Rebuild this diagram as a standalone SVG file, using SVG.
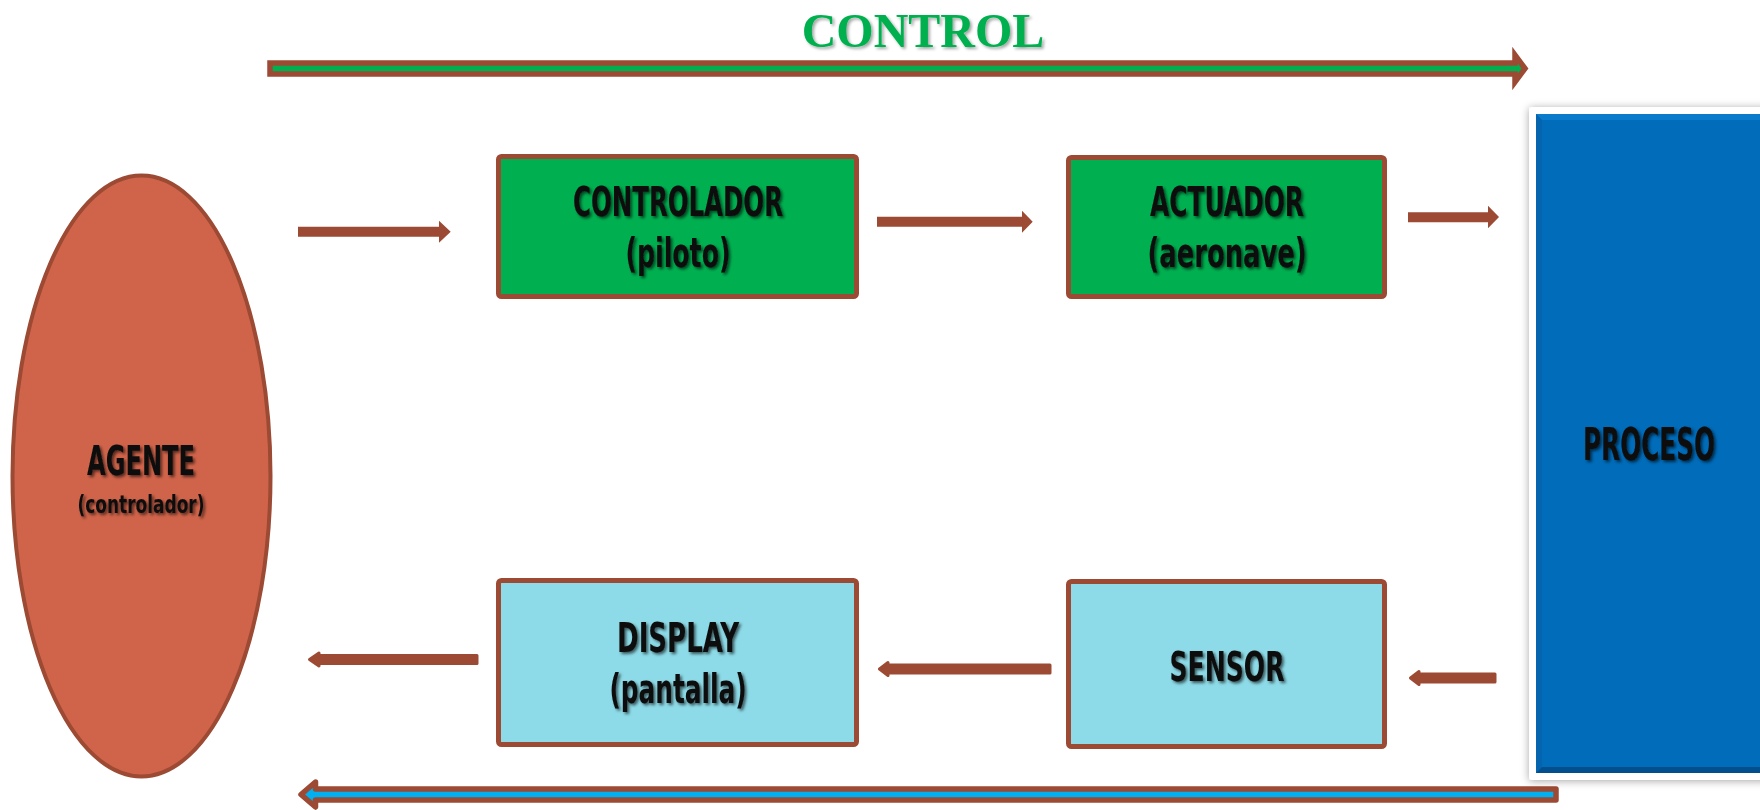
<svg xmlns="http://www.w3.org/2000/svg" width="1760" height="810" viewBox="0 0 1760 810">
<defs>
<style>
.lbl{font-family:"DejaVu Sans Condensed","Liberation Sans Narrow","DejaVu Sans",sans-serif;font-weight:bold;fill:#0D0D0D;text-anchor:middle;filter:url(#tsh);}
.box{stroke:#9C4A33;stroke-width:5;}
.green{fill:#00B050;}
.cyan{fill:#8DDBE8;}
.arr{fill:#9C4A33;}
.arrR{fill:#9C4A33;stroke:#9C4A33;stroke-width:3;stroke-linejoin:round;}
</style>
<filter id="tsh" x="-20%" y="-40%" width="140%" height="180%">
<feDropShadow dx="2" dy="2" stdDeviation="1.4" flood-color="#000" flood-opacity="0.6"/>
</filter>
<filter id="tsh2" x="-20%" y="-40%" width="140%" height="180%">
<feDropShadow dx="2" dy="2" stdDeviation="1.5" flood-color="#000" flood-opacity="0.35"/>
</filter>
<filter id="bsh" x="-10%" y="-5%" width="130%" height="115%">
<feDropShadow dx="0" dy="1" stdDeviation="4" flood-color="#000" flood-opacity="0.35"/>
</filter>
</defs>
<rect width="1760" height="810" fill="#fff"/>

<g id="title">
<text x="923" y="47" font-family="Liberation Serif, serif" font-weight="bold" font-size="48" fill="#00B050" text-anchor="middle" filter="url(#tsh2)">CONTROL</text>
</g>

<g id="connectors">
<path d="M270 63 H1515 V55 L1525 68.5 L1515 82 V74 H270 Z" fill="#00B050" stroke="#9C4A33" stroke-width="5.5" stroke-linejoin="miter"/>
<path d="M1556 789 H315.5 V782 L301 794.5 L315.5 807 V800 H1556 Z" fill="#00B0F0" stroke="#9C4A33" stroke-width="5.5" stroke-linejoin="round"/>
<polygon class="arr" points="298,226.7 439,226.7 439,220.7 450.7,231.7 439,242.7 439,236.7 298,236.7"/>
<polygon class="arr" points="877,216.7 1022,216.7 1022,210.7 1032.7,221.7 1022,232.7 1022,226.7 877,226.7"/>
<polygon class="arr" points="1408,212.3 1488,212.3 1488,205.7 1499,217 1488,228.3 1488,222.3 1408,222.3"/>
<polygon class="arrR" points="477,655.5 319,655.5 319,653 309.5,659.5 319,666 319,663.5 477,663.5"/>
<polygon class="arrR" points="1050,665 888,665 888,662.5 879.5,669 888,675.5 888,673 1050,673"/>
<polygon class="arrR" points="1495,674 1419,674 1419,671.5 1410.5,678 1419,684.5 1419,682 1495,682"/>
</g>

<g id="agente">
<ellipse cx="141.5" cy="476" rx="129" ry="300.5" fill="#D0644A" stroke="#9C4A33" stroke-width="4"/>
<text class="lbl" x="141" y="475" font-size="41" textLength="108" lengthAdjust="spacingAndGlyphs">AGENTE</text>
<text class="lbl" x="141" y="513" font-size="24" textLength="127" lengthAdjust="spacingAndGlyphs">(controlador)</text>
</g>

<g id="controlador">
<rect class="box green" x="498.5" y="156.5" width="358" height="140" rx="3"/>
<text class="lbl" x="678" y="216" font-size="40" textLength="210" lengthAdjust="spacingAndGlyphs">CONTROLADOR</text>
<text class="lbl" x="678" y="267" font-size="40" textLength="105" lengthAdjust="spacingAndGlyphs">(piloto)</text>
</g>

<g id="actuador">
<rect class="box green" x="1068.5" y="157.5" width="316" height="139" rx="3"/>
<text class="lbl" x="1227" y="216" font-size="40" textLength="154" lengthAdjust="spacingAndGlyphs">ACTUADOR</text>
<text class="lbl" x="1227" y="267" font-size="40" textLength="159" lengthAdjust="spacingAndGlyphs">(aeronave)</text>
</g>

<g id="display">
<rect class="box cyan" x="498.5" y="580.5" width="358" height="164" rx="3"/>
<text class="lbl" x="678" y="652" font-size="40" textLength="122" lengthAdjust="spacingAndGlyphs">DISPLAY</text>
<text class="lbl" x="678" y="703" font-size="40" textLength="137" lengthAdjust="spacingAndGlyphs">(pantalla)</text>
</g>

<g id="sensor">
<rect class="box cyan" x="1068.5" y="581.5" width="316" height="165" rx="3"/>
<text class="lbl" x="1227" y="681" font-size="40" textLength="115" lengthAdjust="spacingAndGlyphs">SENSOR</text>
</g>

<g id="proceso">
<rect x="1529" y="107" width="260" height="673" rx="3" fill="#fff" filter="url(#bsh)"/>
<rect x="1536" y="114" width="240" height="659" fill="#006CBA"/>
<polygon points="1536,114 1776,114 1776,120 1542,120" fill="#0A7ACB"/>
<polygon points="1536,114 1542,120 1542,767 1536,773" fill="#0464AE"/>
<polygon points="1536,773 1542,767 1776,767 1776,773" fill="#034E8C"/>
<text class="lbl" x="1649" y="460" font-size="44" textLength="132" lengthAdjust="spacingAndGlyphs">PROCESO</text>
</g>
</svg>
